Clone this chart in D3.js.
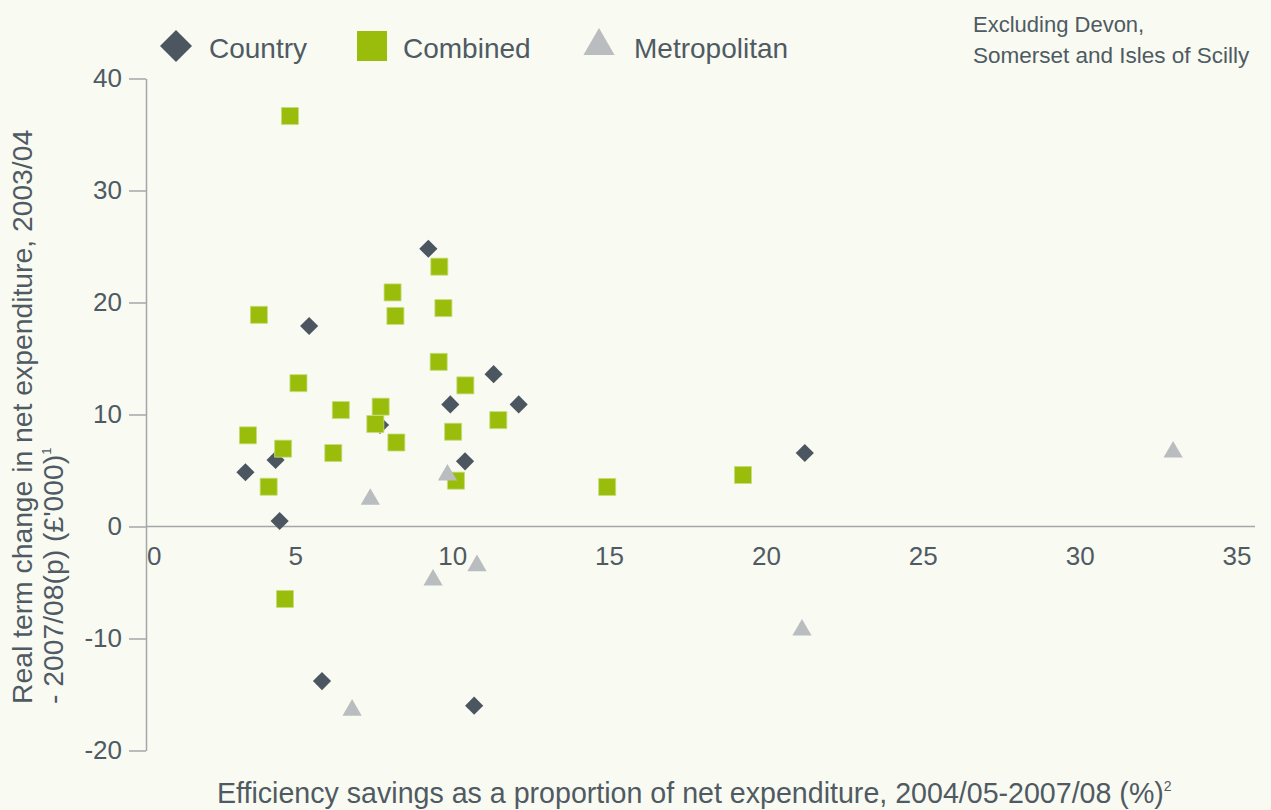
<!DOCTYPE html>
<html>
<head>
<meta charset="utf-8">
<script src="https://cdn.jsdelivr.net/npm/d3@7"></script>
<style>
  body { margin: 0; background: #f9faf2; }
  svg { display: block; font-family: "Liberation Sans", Arial, sans-serif; }
</style>
</head>
<body>
<script>
// series values: [efficiency savings %, real term change £'000]
var country = [
  [9.0, 24.8], [5.2, 17.9], [11.08, 13.6], [9.7, 10.9], [11.88, 10.9],
  [7.46, 9.06], [4.13, 5.94], [3.17, 4.84], [10.17, 5.82], [4.26, 0.49],
  [21.0, 6.56], [5.61, -13.8], [10.46, -16.0]
];
var combined = [
  [9.35, 23.2], [7.86, 20.9], [9.48, 19.5], [7.95, 18.8], [3.6, 18.9],
  [9.33, 14.7], [10.18, 12.6], [4.86, 12.8], [6.21, 10.4], [7.48, 10.7],
  [7.31, 9.15], [11.23, 9.5], [9.79, 8.46], [7.98, 7.5], [3.25, 8.14],
  [4.37, 6.95], [5.97, 6.56], [3.91, 3.55], [9.88, 4.09], [4.59, 36.65],
  [4.43, -6.47], [14.7, 3.53], [19.03, 4.6]
];
var metropolitan = [
  [7.15, 2.43], [9.61, 4.6], [9.15, -4.78], [10.55, -3.5],
  [6.57, -16.4], [20.91, -9.24], [32.74, 6.65]
];
var seriesNames = ["Country", "Combined", "Metropolitan"];
var xTicks = [0, 5, 10, 15, 20, 25, 30, 35];
var yTicks = [-20, -10, 0, 10, 20, 30, 40];

var W = 1271, H = 810;
var colors = { Country: "#4b5660", Combined: "#9abd0c", Metropolitan: "#b9bdbf" };
var textColor = "#4f5a63";
var axisColor = "#a3a7aa";

var svg = d3.select("body").append("svg")
    .attr("width", W)
    .attr("height", H);

svg.append("rect").attr("width", W).attr("height", H).attr("fill", "#f9faf2");

var x = d3.scaleLinear().domain([0, 35]).range([146, 1244]);
var y = d3.scaleLinear().domain([-20, 40]).range([750.5, 78.5]);

// y axis
var yAxis = svg.append("g")
    .attr("transform", "translate(146,0)")
    .call(d3.axisLeft(y).tickValues(yTicks).tickSize(17).tickPadding(7).tickSizeOuter(0)
      .tickFormat(function(d) { return String(d); }));
yAxis.select(".domain").attr("stroke", axisColor).attr("stroke-width", 1.5);
yAxis.selectAll(".tick line").attr("stroke", axisColor).attr("stroke-width", 1.5);
yAxis.selectAll(".tick text")
    .attr("fill", textColor)
    .attr("font-size", 26)
    .attr("font-family", "Liberation Sans, Arial, sans-serif");

// x axis line at zero
svg.append("line")
    .attr("x1", 146).attr("x2", 1255)
    .attr("y1", y(0)).attr("y2", y(0))
    .attr("stroke", axisColor).attr("stroke-width", 1.5);

svg.append("g").selectAll("text")
    .data(xTicks)
  .enter().append("text")
    .attr("x", function(d) { return d === 0 ? x(d) + 1 : x(d) - 7; })
    .attr("y", y(0) + 38)
    .attr("text-anchor", function(d) { return d === 0 ? "start" : "middle"; })
    .attr("fill", textColor)
    .attr("font-size", 26)
    .text(function(d) { return d; });

// axis titles
var yTitle = svg.append("text")
    .attr("transform", "translate(32,704) rotate(-90)")
    .attr("fill", textColor)
    .attr("font-size", 28.3);
yTitle.append("tspan").attr("x", 0).attr("y", 0)
    .text("Real term change in net expenditure, 2003/04");
var l2 = yTitle.append("tspan").attr("x", 0).attr("y", 31)
    .text("- 2007/08(p) (£'000)");
l2.append("tspan").attr("dy", -12).attr("font-size", 13).text("1");

var xTitle = svg.append("text")
    .attr("x", 217).attr("y", 803)
    .attr("fill", textColor)
    .attr("font-size", 28.6)
    .text("Efficiency savings as a proportion of net expenditure, 2004/05-2007/08 (%)");
xTitle.append("tspan").attr("dy", -12).attr("font-size", 14).text("2");

// note
svg.append("text").attr("x", 973).attr("y", 32)
    .attr("fill", textColor).attr("font-size", 22)
    .text("Excluding Devon,");
svg.append("text").attr("x", 973).attr("y", 63)
    .attr("fill", textColor).attr("font-size", 22.5)
    .text("Somerset and Isles of Scilly");

// marks
var shapes = {
  Country: { type: d3.symbolSquare, size: 165, rotate: 45 },
  Combined: { type: d3.symbolSquare, size: 290, rotate: 0 },
  Metropolitan: { type: d3.symbolTriangle, size: 160, rotate: 0 }
};
var seriesData = { Country: country, Combined: combined, Metropolitan: metropolitan };

seriesNames.forEach(function(name) {
  var s = shapes[name];
  svg.append("g").selectAll("path")
      .data(seriesData[name])
    .enter().append("path")
      .attr("d", d3.symbol().type(s.type).size(s.size))
      .attr("transform", function(d) {
        return "translate(" + x(d[0]) + "," + y(d[1]) + ") rotate(" + s.rotate + ")";
      })
      .attr("fill", colors[name])
      .attr("stroke", name === "Combined" ? "#c7dd7a" : "none")
      .attr("stroke-width", 0.8);
});

// legend
var legendPos = [
  { name: "Country", cx: 176, tx: 209, size: 512, rotate: 45, type: d3.symbolSquare },
  { name: "Combined", cx: 372, tx: 403, size: 900, rotate: 0, type: d3.symbolSquare },
  { name: "Metropolitan", cx: 599, tx: 634, size: 420, rotate: 0, type: d3.symbolTriangle }
];
var legend = svg.append("g");
legendPos.forEach(function(l) {
  legend.append("path")
      .attr("d", d3.symbol().type(l.type).size(l.size))
      .attr("transform", "translate(" + l.cx + ",46) rotate(" + l.rotate + ")")
      .attr("fill", colors[l.name]);
  legend.append("text")
      .attr("x", l.tx).attr("y", 58)
      .attr("fill", textColor)
      .attr("font-size", 28)
      .text(l.name);
});
</script>
</body>
</html>
